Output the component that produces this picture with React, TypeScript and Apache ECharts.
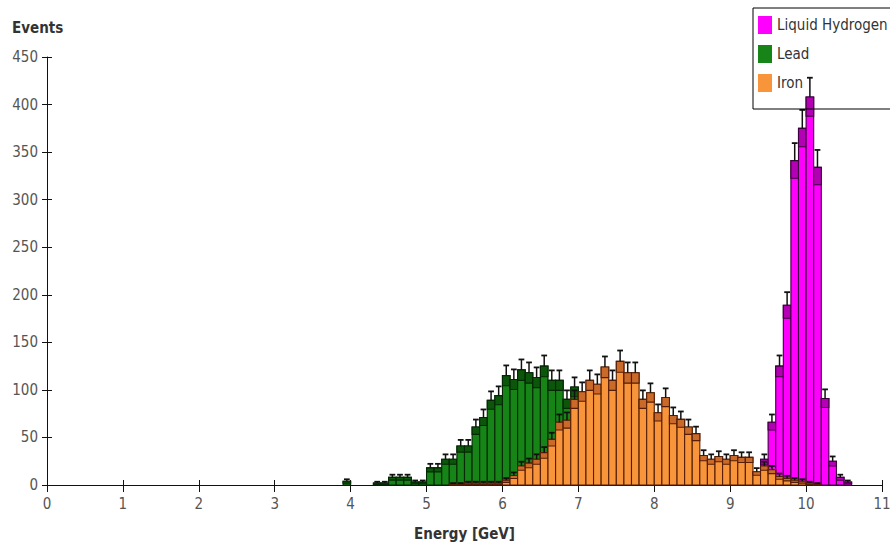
import React, { useEffect, useRef } from "react";
import * as echarts from "echarts";

const binWidth = 0.1;
const seriesNames = ["Liquid Hydrogen", "Lead", "Iron"];
const xTicks = [0, 1, 2, 3, 4, 5, 6, 7, 8, 9, 10, 11];
const yTicks = [0, 50, 100, 150, 200, 250, 300, 350, 400, 450];

// first bin low edge (GeV) and counts per 0.1 GeV bin
const hydrogenStart = 9.2;
const hydrogenCounts = [2, 8, 27, 66, 125, 189, 341, 375, 408, 334, 91, 25, 8, 3];

const leadStart = 3.9;
const leadCounts = [
  4, 0, 0, 0, 2, 2, 8, 8, 8, 3, 3, 18, 18, 27, 27, 41, 41, 61, 71, 89, 94, 115, 111, 121, 118,
  113, 125, 110, 110, 90, 103, 50,
];

const ironStart = 5.3;
const ironCounts = [
  1, 1, 2, 2, 2, 2, 2, 5, 10, 20, 23, 27, 34, 48, 66, 68, 90, 98, 110, 106, 124, 110, 130, 118,
  118, 90, 97, 76, 92, 73, 69, 61, 54, 31, 27, 30, 27, 31, 29, 29, 14, 20, 16, 9, 7, 5, 4, 2, 1,
];

const colors = {
  hydrogen: { fill: "#ff00ff", band: "#b400b4", stroke: "#3e003e" },
  lead: { fill: "#178417", band: "#0b560b", stroke: "#052805" },
  iron: { fill: "#f8953a", band: "#c9692a", stroke: "#561e06" },
};

const FONT = "'DejaVu Sans Condensed', 'DejaVu Sans', sans-serif";

function toBins(start: number, counts: number[]) {
  const first = Math.round(start / binWidth);
  return counts
    .map((c, i) => [(first + i) / 10, (first + i + 1) / 10, c])
    .filter((d) => d[2] > 0);
}

function makeRender(fill: string, band: string, stroke: string) {
  return (params: any, api: any) => {
    const x0 = api.value(0);
    const x1 = api.value(1);
    const v = api.value(2);
    const e = Math.sqrt(v);
    const p0 = api.coord([x0, 0]);
    const pV = api.coord([x1, v]);
    const yLo = api.coord([x0, Math.max(v - e, 0)])[1];
    const yHi = api.coord([x0, v + e])[1];
    const w = pV[0] - p0[0];
    const xc = (p0[0] + pV[0]) / 2;
    const cap = w * 0.38;
    return {
      type: "group",
      children: [
        {
          type: "rect",
          shape: { x: p0[0], y: pV[1], width: w, height: p0[1] - pV[1] },
          style: { fill, stroke, lineWidth: 1.1 },
        },
        {
          type: "rect",
          shape: { x: p0[0], y: pV[1], width: w, height: yLo - pV[1] },
          style: { fill: band, stroke, lineWidth: 1.1 },
        },
        {
          type: "line",
          shape: { x1: xc, y1: pV[1], x2: xc, y2: yHi },
          style: { stroke: "#111", lineWidth: 1.5 },
        },
        {
          type: "line",
          shape: { x1: xc - cap, y1: yHi, x2: xc + cap, y2: yHi },
          style: { stroke: "#111", lineWidth: 1.8 },
        },
      ],
    };
  };
}

export default function App() {
  const ref = useRef<HTMLDivElement>(null);
  useEffect(() => {
    if (!ref.current) return;
    const chart = echarts.init(ref.current, undefined, { renderer: "svg" });
    const defs = [
      { name: seriesNames[0], data: toBins(hydrogenStart, hydrogenCounts), c: colors.hydrogen },
      { name: seriesNames[1], data: toBins(leadStart, leadCounts), c: colors.lead },
      { name: seriesNames[2], data: toBins(ironStart, ironCounts), c: colors.iron },
    ];
    const xMin = xTicks[0];
    const xMax = xTicks[xTicks.length - 1];
    const yMax = yTicks[yTicks.length - 1];
    const baseY = {
      type: "value",
      min: 0,
      max: yMax,
      interval: 50,
      splitLine: { show: false },
    };
    const baseX = {
      type: "value",
      min: xMin,
      max: xMax,
      interval: 1,
      splitLine: { show: false },
    };
    chart.setOption({
      animation: false,
      backgroundColor: "#ffffff",
      grid: { left: 47, right: 8, top: 57, bottom: 61, outerBoundsMode: "none", containLabel: false },
      legend: {
        data: seriesNames,
        orient: "vertical",
        left: 753,
        top: 8,
        padding: [8, 40, 17, 5],
        itemWidth: 14,
        itemHeight: 18,
        itemGap: 11,
        icon: "rect",
        borderColor: "#000",
        borderWidth: 1,
        textStyle: { fontSize: 15, color: "#333", fontFamily: FONT },
      },
      xAxis: [
        {
          ...baseX,
          name: "Energy [GeV]",
          nameLocation: "middle",
          nameGap: 41,
          nameTextStyle: { fontSize: 15, fontWeight: "bold", color: "#333", fontFamily: FONT },
          axisLine: { show: true, lineStyle: { color: "#111", width: 1 } },
          axisTick: { show: true, length: 7, lineStyle: { color: "#111" } },
          axisLabel: { fontSize: 15, color: "#555", margin: 11, fontFamily: FONT },
        },
        {
          ...baseX,
          position: "bottom",
          axisLine: { show: false },
          axisTick: { show: true, inside: true, length: 5, lineStyle: { color: "#111" } },
          axisLabel: { show: false },
        },
      ],
      yAxis: [
        {
          ...baseY,
          axisLine: { show: true, lineStyle: { color: "#111", width: 1 } },
          axisTick: { show: true, length: 5, lineStyle: { color: "#111" } },
          axisLabel: { fontSize: 15, color: "#555", margin: 9, fontFamily: FONT },
        },
        {
          ...baseY,
          position: "left",
          axisLine: { show: false },
          axisTick: { show: true, inside: true, length: 5, lineStyle: { color: "#111" } },
          axisLabel: { show: false },
        },
      ],
      graphic: [
        {
          type: "text",
          left: 12,
          top: 20,
          style: {
            text: "Events",
            fontSize: 15,
            fontWeight: "bold",
            fill: "#333",
            fontFamily: FONT,
          },
        },
      ],
      series: defs.map((d) => ({
        type: "custom",
        name: d.name,
        xAxisIndex: 0,
        yAxisIndex: 0,
        itemStyle: { color: d.c.fill },
        encode: { x: [0, 1], y: 2 },
        renderItem: makeRender(d.c.fill, d.c.band, d.c.stroke),
        data: d.data,
      })),
    });
    return () => chart.dispose();
  }, []);
  return (
    <div
      ref={ref}
      style={{ position: "fixed", left: 0, top: 0, width: 890, height: 546 }}
    />
  );
}
